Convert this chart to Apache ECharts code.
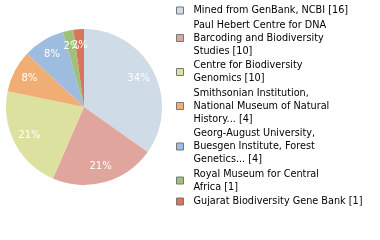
<!DOCTYPE html>
<html><head><meta charset="utf-8">
<script src="https://cdn.jsdelivr.net/npm/echarts@6/dist/echarts.min.js"></script>
<style>html,body{margin:0;padding:0;background:#fff}#c{width:380px;height:240px}</style>
</head><body><div id="c"></div>
<script>
var categories = [
  "Mined from GenBank, NCBI",
  "Paul Hebert Centre for DNA\nBarcoding and Biodiversity\nStudies",
  "Centre for Biodiversity\nGenomics",
  "Smithsonian Institution,\nNational Museum of Natural\nHistory...",
  "Georg-August University,\nBuesgen Institute, Forest\nGenetics...",
  "Royal Museum for Central\nAfrica",
  "Gujarat Biodiversity Gene Bank"
];
var values = [16, 10, 10, 4, 4, 1, 1];
var colors = ["#cfdbe7", "#e0a59d", "#dde19f", "#f0ad74", "#9ebbe0", "#9dc17a", "#d9735a"];
var total = values.reduce(function(a,b){return a+b;},0);
var data = categories.map(function(c,i){return {name:c, value:values[i], itemStyle:{color:colors[i]}};});
var chart = echarts.init(document.getElementById('c'), null, {renderer:'canvas'});
var cx = 84, cy = 107, r = 78;
chart.setOption({
  animation:false,
  legend:{
    orient:'vertical', left:176, top:4, padding:0,
    icon:'rect', itemWidth:7, itemHeight:7, itemGap:1.5,
    selectedMode:false,
    data:categories,
    formatter:function(n){var i=categories.indexOf(n);return n+' ['+values[i]+']';},
    textStyle:{fontFamily:'DejaVu Sans', fontSize:9.7, color:'#000', lineHeight:13, padding:[0,0,0,5]},
    itemStyle:{borderColor:'#777', borderWidth:1}
  },
  series:[{
    type:'pie', center:[cx,cy], radius:[0,r], startAngle:90, clockwise:true,
    data:data, label:{show:false}, labelLine:{show:false}, silent:true
  },{
    type:'pie', center:[cx,cy], radius:[0,r*1.5], startAngle:90, clockwise:true,
    data:categories.map(function(c,i){return {name:c,value:values[i]};}),
    itemStyle:{color:'rgba(0,0,0,0)'}, silent:true, legendHoverLink:false,
    avoidLabelOverlap:false,
    labelLayout:{hideOverlap:false},
    label:{show:true, position:'inside', color:'#fff', fontFamily:'DejaVu Sans', fontSize:10,
      formatter:function(p){return Math.floor(p.value/total*100)+'%';}},
    labelLine:{show:false}
  }]
});
</script></body></html>
